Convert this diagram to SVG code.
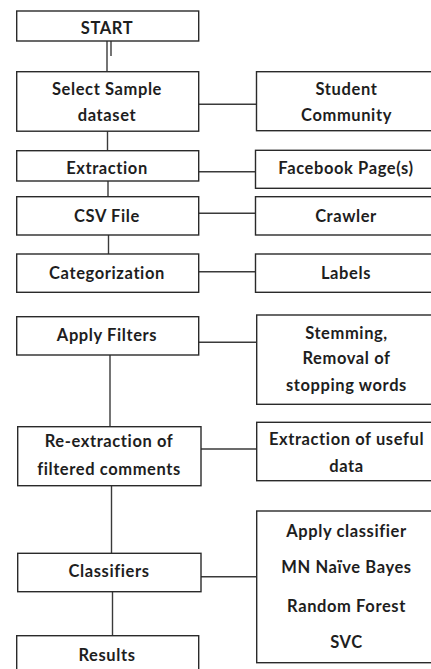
<svg xmlns="http://www.w3.org/2000/svg" width="431" height="669" viewBox="0 0 431 669">
<style>
.box{fill:#fff;stroke:#2a2a2a;stroke-width:1.4}
.ln{stroke:#3a3a3a;stroke-width:1.4;fill:none}
text{font-family:Lato,"Open Sans","Liberation Sans",sans-serif;font-weight:bold;font-size:16.5px;letter-spacing:0.6px;fill:#1e1e1e;text-anchor:middle}
</style>
<rect width="431" height="669" fill="#fff"/>
<g id="connectors">
<line class="ln" x1="107" y1="41" x2="107" y2="72"/>
<line class="ln" x1="111" y1="37" x2="111" y2="56"/>
<line class="ln" x1="107.5" y1="131" x2="107.5" y2="151"/>
<line class="ln" x1="108" y1="181" x2="108" y2="197"/>
<line class="ln" x1="108.5" y1="235" x2="108.5" y2="254"/>
<line class="ln" x1="110" y1="355" x2="110" y2="427"/>
<line class="ln" x1="111.5" y1="486" x2="111.5" y2="553"/>
<line class="ln" x1="112.5" y1="592" x2="112.5" y2="636"/>
<line class="ln" x1="198" y1="104.3" x2="256.5" y2="104.3"/>
<line class="ln" x1="198" y1="171.7" x2="255.5" y2="171.7"/>
<line class="ln" x1="198" y1="213.3" x2="255.5" y2="213.3"/>
<line class="ln" x1="198" y1="271.7" x2="255.5" y2="271.7"/>
<line class="ln" x1="198" y1="342.3" x2="256.5" y2="342.3"/>
<line class="ln" x1="200" y1="449" x2="256.5" y2="449"/>
<line class="ln" x1="200" y1="576.7" x2="256.5" y2="576.7"/>
</g>
<g id="start"><rect class="box" x="16.7" y="11" width="182" height="30"/><text x="107" y="34">START</text></g>
<g id="select"><rect class="box" x="16.7" y="71.7" width="182" height="59.5"/><text x="107" y="95">Select Sample</text><text x="107" y="120.5">dataset</text></g>
<g id="student"><rect class="box" x="256.5" y="71.7" width="185" height="59"/><text x="346.5" y="95">Student</text><text x="346.5" y="120.5">Community</text></g>
<g id="extraction"><rect class="box" x="16.7" y="150.7" width="182" height="30.3"/><text x="107" y="174">Extraction</text></g>
<g id="facebook"><rect class="box" x="255.5" y="150.3" width="186" height="38"/><text x="346" y="174">Facebook Page(s)</text></g>
<g id="csv"><rect class="box" x="16.7" y="196.7" width="182" height="38.3"/><text x="107" y="221.5">CSV File</text></g>
<g id="crawler"><rect class="box" x="255.5" y="196.7" width="186" height="38.3"/><text x="346" y="221.5">Crawler</text></g>
<g id="categorization"><rect class="box" x="16.7" y="254" width="182" height="38.3"/><text x="107" y="279">Categorization</text></g>
<g id="labels"><rect class="box" x="255.5" y="254" width="186" height="38.3"/><text x="346" y="279">Labels</text></g>
<g id="filters"><rect class="box" x="16.7" y="316.7" width="182" height="38.3"/><text x="107" y="341">Apply Filters</text></g>
<g id="stemming"><rect class="box" x="256.7" y="315" width="185" height="89.3"/><text x="346.5" y="339">Stemming,</text><text x="346.5" y="363.5">Removal of</text><text x="346.5" y="391">stopping words</text></g>
<g id="reextraction"><rect class="box" x="17.7" y="426.7" width="183.3" height="59"/><text x="109" y="447">Re-extraction of</text><text x="109" y="475">filtered comments</text></g>
<g id="useful"><rect class="box" x="256.7" y="422.3" width="185" height="58.4"/><text x="346.5" y="445">Extraction of useful</text><text x="346.5" y="471.7">data</text></g>
<g id="classifiers"><rect class="box" x="17.7" y="553.3" width="183.3" height="38.4"/><text x="109" y="577">Classifiers</text></g>
<g id="classifierlist"><rect class="box" x="256.7" y="511" width="185" height="151.7"/><text x="346.5" y="536.7">Apply classifier</text><text x="346.5" y="573.3">MN Naïve Bayes</text><text x="346.5" y="611.7">Random Forest</text><text x="346.5" y="648.3">SVC</text></g>
<g id="results"><rect class="box" x="16.7" y="635.7" width="182" height="45"/><text x="107" y="661">Results</text></g>
</svg>
